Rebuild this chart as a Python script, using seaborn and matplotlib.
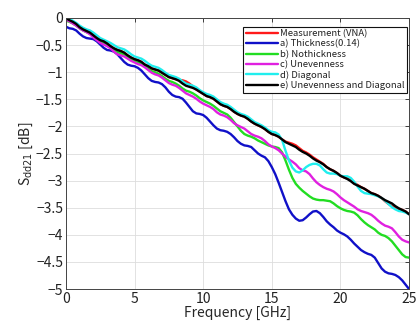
import numpy as np
import pandas as pd
import seaborn as sns
import matplotlib
matplotlib.use("Agg")
import matplotlib.pyplot as plt
from matplotlib.ticker import FuncFormatter, MultipleLocator

# Frequency axis (GHz), 0.25 GHz step
freq = np.round(np.arange(0, 25.001, 0.25), 2)

# Sdd21 [dB] for each case
meas_vna = [
    0.00, -0.04, -0.07, -0.11, -0.17, -0.21, -0.24, -0.27, -0.32, -0.37,
    -0.41, -0.43, -0.47, -0.52, -0.56, -0.59, -0.61, -0.64, -0.69, -0.73,
    -0.76, -0.78, -0.81, -0.86, -0.89, -0.93, -0.95, -0.97, -1.01, -1.05,
    -1.09, -1.11, -1.13, -1.14, -1.15, -1.17, -1.21, -1.26, -1.32, -1.36,
    -1.40, -1.44, -1.46, -1.49, -1.54, -1.59, -1.62, -1.64, -1.68, -1.73,
    -1.77, -1.80, -1.82, -1.86, -1.91, -1.95, -1.98, -2.01, -2.05, -2.10,
    -2.14, -2.16, -2.19, -2.24, -2.28, -2.30, -2.32, -2.35, -2.40, -2.45,
    -2.48, -2.52, -2.57, -2.61, -2.65, -2.69, -2.75, -2.79, -2.82, -2.86,
    -2.91, -2.94, -2.96, -2.99, -3.04, -3.08, -3.12, -3.15, -3.19, -3.23,
    -3.25, -3.28, -3.32, -3.38, -3.43, -3.47, -3.50, -3.52, -3.54, -3.57,
    -3.62,
]
thickness = [
    -0.16, -0.19, -0.20, -0.23, -0.29, -0.34, -0.37, -0.38, -0.39, -0.43,
    -0.49, -0.55, -0.59, -0.60, -0.62, -0.67, -0.74, -0.81, -0.86, -0.88,
    -0.89, -0.92, -0.97, -1.04, -1.11, -1.16, -1.18, -1.19, -1.22, -1.28,
    -1.36, -1.42, -1.45, -1.46, -1.49, -1.56, -1.64, -1.72, -1.76, -1.77,
    -1.79, -1.84, -1.91, -1.98, -2.04, -2.07, -2.08, -2.10, -2.14, -2.20,
    -2.27, -2.32, -2.35, -2.36, -2.38, -2.44, -2.50, -2.54, -2.57, -2.64,
    -2.75, -2.88, -3.04, -3.21, -3.38, -3.53, -3.63, -3.70, -3.74, -3.73,
    -3.68, -3.62, -3.57, -3.56, -3.60, -3.67, -3.75, -3.81, -3.86, -3.92,
    -3.96, -3.99, -4.03, -4.09, -4.16, -4.22, -4.28, -4.32, -4.35, -4.37,
    -4.42, -4.52, -4.62, -4.68, -4.71, -4.72, -4.74, -4.78, -4.84, -4.92,
    -5.00,
]
nothickness = [
    -0.05, -0.07, -0.10, -0.14, -0.19, -0.23, -0.26, -0.29, -0.34, -0.39,
    -0.43, -0.46, -0.49, -0.54, -0.59, -0.63, -0.65, -0.68, -0.72, -0.77,
    -0.80, -0.82, -0.85, -0.89, -0.94, -0.98, -1.00, -1.03, -1.07, -1.12,
    -1.16, -1.18, -1.21, -1.25, -1.30, -1.34, -1.36, -1.39, -1.43, -1.48,
    -1.52, -1.55, -1.58, -1.62, -1.67, -1.72, -1.75, -1.78, -1.84, -1.92,
    -2.00, -2.08, -2.14, -2.17, -2.19, -2.22, -2.26, -2.29, -2.32, -2.35,
    -2.37, -2.38, -2.40, -2.48, -2.63, -2.80, -2.95, -3.06, -3.13, -3.19,
    -3.24, -3.29, -3.33, -3.35, -3.36, -3.36, -3.37, -3.38, -3.42, -3.47,
    -3.51, -3.54, -3.56, -3.57, -3.59, -3.64, -3.71, -3.77, -3.82, -3.86,
    -3.90, -3.96, -4.00, -4.02, -4.06, -4.12, -4.20, -4.28, -4.36, -4.41,
    -4.42,
]
unevenness = [
    -0.03, -0.06, -0.10, -0.14, -0.19, -0.23, -0.26, -0.30, -0.36, -0.41,
    -0.46, -0.49, -0.52, -0.56, -0.62, -0.67, -0.69, -0.71, -0.75, -0.79,
    -0.82, -0.85, -0.87, -0.91, -0.96, -1.01, -1.04, -1.06, -1.10, -1.15,
    -1.20, -1.23, -1.25, -1.29, -1.34, -1.39, -1.42, -1.45, -1.49, -1.54,
    -1.58, -1.61, -1.64, -1.68, -1.74, -1.78, -1.80, -1.83, -1.88, -1.94,
    -1.98, -2.01, -2.04, -2.09, -2.14, -2.17, -2.19, -2.22, -2.27, -2.33,
    -2.37, -2.40, -2.44, -2.50, -2.56, -2.61, -2.65, -2.70, -2.77, -2.81,
    -2.83, -2.88, -2.96, -3.03, -3.08, -3.12, -3.15, -3.17, -3.20, -3.25,
    -3.31, -3.36, -3.40, -3.44, -3.48, -3.53, -3.56, -3.58, -3.60, -3.63,
    -3.68, -3.74, -3.79, -3.83, -3.85, -3.88, -3.95, -4.03, -4.09, -4.12,
    -4.14,
]
diagonal = [
    0.00, -0.02, -0.05, -0.09, -0.14, -0.18, -0.21, -0.23, -0.27, -0.32,
    -0.37, -0.40, -0.43, -0.46, -0.50, -0.54, -0.56, -0.58, -0.62, -0.67,
    -0.71, -0.73, -0.75, -0.79, -0.84, -0.88, -0.90, -0.92, -0.96, -1.01,
    -1.05, -1.07, -1.09, -1.12, -1.17, -1.21, -1.23, -1.25, -1.28, -1.33,
    -1.37, -1.40, -1.42, -1.45, -1.50, -1.55, -1.58, -1.60, -1.64, -1.69,
    -1.74, -1.77, -1.79, -1.82, -1.87, -1.92, -1.95, -1.98, -2.02, -2.07,
    -2.10, -2.11, -2.15, -2.25, -2.45, -2.63, -2.76, -2.83, -2.85, -2.81,
    -2.75, -2.71, -2.69, -2.69, -2.72, -2.79, -2.85, -2.87, -2.87, -2.88,
    -2.91, -2.92, -2.92, -2.95, -3.02, -3.11, -3.19, -3.23, -3.24, -3.25,
    -3.27, -3.29, -3.32, -3.37, -3.43, -3.49, -3.53, -3.56, -3.57, -3.59,
    -3.62,
]
uneven_diag = [
    0.00, -0.04, -0.07, -0.11, -0.17, -0.21, -0.24, -0.27, -0.32, -0.37,
    -0.41, -0.43, -0.47, -0.52, -0.56, -0.59, -0.61, -0.64, -0.69, -0.73,
    -0.76, -0.78, -0.81, -0.86, -0.89, -0.93, -0.95, -0.97, -1.01, -1.05,
    -1.09, -1.11, -1.13, -1.16, -1.21, -1.25, -1.27, -1.29, -1.32, -1.36,
    -1.40, -1.44, -1.46, -1.49, -1.54, -1.59, -1.62, -1.64, -1.68, -1.73,
    -1.77, -1.80, -1.82, -1.86, -1.91, -1.95, -1.98, -2.01, -2.05, -2.10,
    -2.14, -2.16, -2.19, -2.24, -2.29, -2.32, -2.35, -2.38, -2.43, -2.47,
    -2.50, -2.54, -2.59, -2.63, -2.66, -2.70, -2.75, -2.79, -2.82, -2.86,
    -2.91, -2.94, -2.97, -3.01, -3.06, -3.09, -3.12, -3.15, -3.19, -3.23,
    -3.25, -3.28, -3.32, -3.36, -3.39, -3.42, -3.47, -3.51, -3.54, -3.57,
    -3.62,
]

labels = [
    "Measurement (VNA)",
    "a) Thickness(0.14)",
    "b) Nothickness",
    "c) Unevenness",
    "d) Diagonal",
    "e) Unevenness and Diagonal",
]
series = [meas_vna, thickness, nothickness, unevenness, diagonal, uneven_diag]
colors = ["#ff1a1a", "#1010c8", "#22dd22", "#e020e0", "#20eeee", "#000000"]

df = pd.concat(
    [pd.DataFrame({"freq": freq, "sdd21": s, "case": lab})
     for lab, s in zip(labels, series)],
    ignore_index=True,
)

sns.set_style("whitegrid")
plt.rcParams["font.family"] = ["Noto Sans CJK JP", "DejaVu Sans"]
plt.rcParams["axes.unicode_minus"] = True

fig = plt.figure(figsize=(4.17, 3.27), dpi=100)
ax = fig.add_axes([0.158, 0.116, 0.823, 0.829])

sns.lineplot(
    data=df, x="freq", y="sdd21", hue="case", hue_order=labels,
    palette=colors, linewidth=1.7, sort=False, estimator=None, ax=ax,
    legend=False,
)

ax.set_xlim(0, 25)
ax.set_ylim(-5, 0)
ax.xaxis.set_major_locator(MultipleLocator(5))
ax.yaxis.set_major_locator(MultipleLocator(0.5))
fmt = FuncFormatter(lambda v, p: ("%g" % v).replace("-", "\u2212"))
ax.xaxis.set_major_formatter(fmt)
ax.yaxis.set_major_formatter(fmt)

ax.grid(True, color="#dddddd", linewidth=0.6)
for sp in ax.spines.values():
    sp.set_color("#444444")
    sp.set_linewidth(0.7)
ax.tick_params(direction="in", length=3, width=0.6, colors="#222222",
               labelsize=10, top=True, right=True, pad=2)

ax.set_xlabel("Frequency [GHz]", fontsize=10, labelpad=0)
ax.set_ylabel(r"S$_{\mathrm{dd21}}$ [dB]", fontsize=10, labelpad=1)

handles = [plt.Line2D([], [], color=c, lw=1.7) for c in colors]
leg = ax.legend(
    handles, labels, loc="upper right", bbox_to_anchor=(0.994, 0.967),
    fontsize=6.8, frameon=True, fancybox=False, framealpha=1,
    edgecolor="#111111", borderpad=0.25, labelspacing=0.12,
    handlelength=3.4, handletextpad=0.25, borderaxespad=0,
)
leg.get_frame().set_linewidth(0.8)
for t in leg.get_texts():
    t.set_color("#222222")

fig.savefig("out.png", dpi=100)
